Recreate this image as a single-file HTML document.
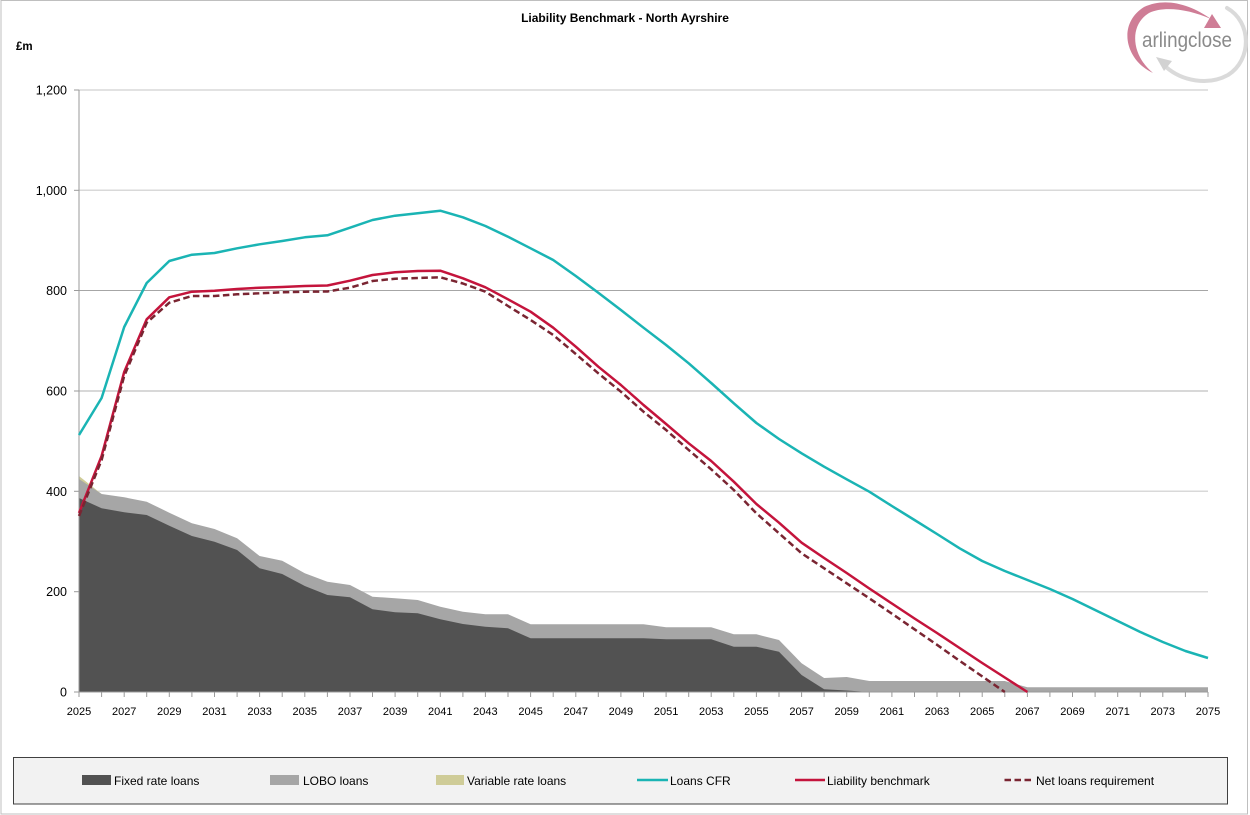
<!DOCTYPE html>
<html>
<head>
<meta charset="utf-8">
<style>
  html,body{margin:0;padding:0;background:#fff;}
  body{width:1250px;height:815px;overflow:hidden;}
  svg{display:block;}
  text{font-family:"Liberation Sans",Arial,sans-serif;}
</style>
</head>
<body>
<svg width="1250" height="815" viewBox="0 0 1250 815" xmlns="http://www.w3.org/2000/svg">
  <!-- outer border -->
  <rect x="1" y="0.5" width="1246.5" height="813.5" fill="#fff" stroke="#bfbfbf" stroke-width="1"/>

  <!-- title -->
  <text x="625" y="22" text-anchor="middle" font-size="12" font-weight="bold" fill="#000">Liability Benchmark - North Ayrshire</text>
  <text x="16" y="50" font-size="11.5" font-weight="bold" fill="#000">£m</text>

  <!-- logo -->
  <g>
    <path d="M1227,8 C1252,22 1252,60 1228,75 C1208,86 1182,81 1166,67" fill="none" stroke="#dadada" stroke-width="4" stroke-linecap="round"/>
    <polygon points="1156,57 1172,61 1164,71" fill="#d2d2d2"/>
    <path d="M1153,73 C1125,60 1117,24 1144,7 C1165,-3 1190,4 1211,19 C1188,9 1164,6 1149,13 C1129,25 1131,55 1153,73 Z" fill="#cf7d96"/>
    <polygon points="1221,28 1204,28 1212,14" fill="#cf7d96"/>
    <text x="1142" y="47" font-size="21" fill="#8a8a8a" textLength="90" lengthAdjust="spacingAndGlyphs">arlingclose</text>
  </g>

  <!-- gridlines -->
  <line x1="79" y1="90" x2="1208" y2="90" stroke="#d9d9d9" stroke-width="1.5"/>
  <line x1="79" y1="190.3" x2="1208" y2="190.3" stroke="#d9d9d9" stroke-width="1.5"/>
  <line x1="79" y1="290.5" x2="1208" y2="290.5" stroke="#a6a6a6" stroke-width="1"/>
  <line x1="79" y1="391" x2="1208" y2="391" stroke="#b0b0b0" stroke-width="1"/>
  <line x1="79" y1="491.3" x2="1208" y2="491.3" stroke="#d9d9d9" stroke-width="1.5"/>
  <line x1="79" y1="591.7" x2="1208" y2="591.7" stroke="#d9d9d9" stroke-width="1.5"/>

  <!-- variable rate loans (yellow) -->
  <polygon points="79,476 101.6,494 79,494" fill="#cfcc98"/>

  <!-- LOBO loans (grey) -->
  <polygon fill="#a6a6a6" points="79,479 101.6,494 124.2,497.3 146.7,501.7 169.3,512.7 191.9,523.3 214.5,529 237.1,538.3 259.6,556 282.2,560.7 304.8,573.3 327.4,581.7 350,585 372.5,596.7 395.1,598.3 417.7,600 440.3,606.7 462.9,611.7 485.4,614.3 508,614.3 530.6,624.3 643.5,624.3 666.1,627.3 711.2,627.3 733.8,634.3 756.4,634.3 779,640 801.6,663.3 824.1,678 846.7,677 869.3,681 1004.8,681 1027.4,687.3 1208,687.3 1208,692 79,692"/>

  <!-- Fixed rate loans (dark) -->
  <polygon fill="#525252" points="79,498 101.6,508.3 124.2,512.3 146.7,515 169.3,525.7 191.9,536 214.5,541.7 237.1,550 259.6,568.3 282.2,574 304.8,586 327.4,595 350,597.3 372.5,609.3 395.1,612.3 417.7,613.3 440.3,619.3 462.9,624 485.4,626.7 508,628.3 530.6,638.3 643.5,638.3 666.1,639.3 711.2,639.3 733.8,646.7 756.4,646.7 779,651.7 801.6,675 824.1,689.3 846.7,690.5 869.3,692 79,692"/>

  <!-- axes -->
  <line x1="79" y1="90" x2="79" y2="692" stroke="#9a9a9a" stroke-width="1"/>
  <line x1="79" y1="692" x2="1208" y2="692" stroke="#9a9a9a" stroke-width="1"/>
  <g stroke="#9a9a9a" stroke-width="1">
    <line x1="74" y1="90" x2="79" y2="90"/>
    <line x1="74" y1="190.3" x2="79" y2="190.3"/>
    <line x1="74" y1="290.5" x2="79" y2="290.5"/>
    <line x1="74" y1="391" x2="79" y2="391"/>
    <line x1="74" y1="491.3" x2="79" y2="491.3"/>
    <line x1="74" y1="591.7" x2="79" y2="591.7"/>
    <line x1="74" y1="692" x2="79" y2="692"/>
  </g>
  <g stroke="#9a9a9a" stroke-width="1">
    <line x1="79" y1="692" x2="79" y2="697"/><line x1="101.6" y1="692" x2="101.6" y2="697"/><line x1="124.2" y1="692" x2="124.2" y2="697"/><line x1="146.7" y1="692" x2="146.7" y2="697"/><line x1="169.3" y1="692" x2="169.3" y2="697"/><line x1="191.9" y1="692" x2="191.9" y2="697"/><line x1="214.5" y1="692" x2="214.5" y2="697"/><line x1="237.1" y1="692" x2="237.1" y2="697"/><line x1="259.6" y1="692" x2="259.6" y2="697"/><line x1="282.2" y1="692" x2="282.2" y2="697"/><line x1="304.8" y1="692" x2="304.8" y2="697"/><line x1="327.4" y1="692" x2="327.4" y2="697"/><line x1="350" y1="692" x2="350" y2="697"/><line x1="372.5" y1="692" x2="372.5" y2="697"/><line x1="395.1" y1="692" x2="395.1" y2="697"/><line x1="417.7" y1="692" x2="417.7" y2="697"/><line x1="440.3" y1="692" x2="440.3" y2="697"/><line x1="462.9" y1="692" x2="462.9" y2="697"/><line x1="485.4" y1="692" x2="485.4" y2="697"/><line x1="508" y1="692" x2="508" y2="697"/><line x1="530.6" y1="692" x2="530.6" y2="697"/><line x1="553.2" y1="692" x2="553.2" y2="697"/><line x1="575.8" y1="692" x2="575.8" y2="697"/><line x1="598.3" y1="692" x2="598.3" y2="697"/><line x1="620.9" y1="692" x2="620.9" y2="697"/><line x1="643.5" y1="692" x2="643.5" y2="697"/><line x1="666.1" y1="692" x2="666.1" y2="697"/><line x1="688.7" y1="692" x2="688.7" y2="697"/><line x1="711.2" y1="692" x2="711.2" y2="697"/><line x1="733.8" y1="692" x2="733.8" y2="697"/><line x1="756.4" y1="692" x2="756.4" y2="697"/><line x1="779" y1="692" x2="779" y2="697"/><line x1="801.6" y1="692" x2="801.6" y2="697"/><line x1="824.1" y1="692" x2="824.1" y2="697"/><line x1="846.7" y1="692" x2="846.7" y2="697"/><line x1="869.3" y1="692" x2="869.3" y2="697"/><line x1="891.9" y1="692" x2="891.9" y2="697"/><line x1="914.5" y1="692" x2="914.5" y2="697"/><line x1="937" y1="692" x2="937" y2="697"/><line x1="959.6" y1="692" x2="959.6" y2="697"/><line x1="982.2" y1="692" x2="982.2" y2="697"/><line x1="1004.8" y1="692" x2="1004.8" y2="697"/><line x1="1027.4" y1="692" x2="1027.4" y2="697"/><line x1="1049.9" y1="692" x2="1049.9" y2="697"/><line x1="1072.5" y1="692" x2="1072.5" y2="697"/><line x1="1095.1" y1="692" x2="1095.1" y2="697"/><line x1="1117.7" y1="692" x2="1117.7" y2="697"/><line x1="1140.3" y1="692" x2="1140.3" y2="697"/><line x1="1162.8" y1="692" x2="1162.8" y2="697"/><line x1="1185.4" y1="692" x2="1185.4" y2="697"/><line x1="1208" y1="692" x2="1208" y2="697"/>
  </g>

  <!-- y labels -->
  <g font-size="12.5" fill="#000" text-anchor="end">
    <text x="67" y="94.5">1,200</text>
    <text x="67" y="194.8">1,000</text>
    <text x="67" y="295">800</text>
    <text x="67" y="395.5">600</text>
    <text x="67" y="495.8">400</text>
    <text x="67" y="596.2">200</text>
    <text x="67" y="696.5">0</text>
  </g>

  <!-- x labels -->
  <g font-size="11" fill="#000" text-anchor="middle">
    <text x="79" y="715">2025</text><text x="124.2" y="715">2027</text><text x="169.3" y="715">2029</text><text x="214.5" y="715">2031</text><text x="259.6" y="715">2033</text><text x="304.8" y="715">2035</text><text x="350" y="715">2037</text><text x="395.1" y="715">2039</text><text x="440.3" y="715">2041</text><text x="485.4" y="715">2043</text><text x="530.6" y="715">2045</text><text x="575.8" y="715">2047</text><text x="620.9" y="715">2049</text><text x="666.1" y="715">2051</text><text x="711.2" y="715">2053</text><text x="756.4" y="715">2055</text><text x="801.6" y="715">2057</text><text x="846.7" y="715">2059</text><text x="891.9" y="715">2061</text><text x="937" y="715">2063</text><text x="982.2" y="715">2065</text><text x="1027.4" y="715">2067</text><text x="1072.5" y="715">2069</text><text x="1117.7" y="715">2071</text><text x="1162.8" y="715">2073</text><text x="1208" y="715">2075</text>
  </g>

  <!-- Loans CFR -->
  <polyline fill="none" stroke="#1ab4b4" stroke-width="2.5" stroke-linejoin="round" points="79,435 101.6,398 124.2,327 146.7,283 169.3,261 191.9,254.7 214.5,253 237.1,248.3 259.6,244.3 282.2,241 304.8,237.3 327.4,235.3 350,227.7 372.5,220 395.1,215.7 417.7,213.3 440.3,210.7 462.9,217.3 485.4,226 508,236.7 530.6,248.3 553.2,260 575.8,276 598.3,292.7 620.9,310 643.5,327.7 666.1,345 688.7,363.3 711.2,383 733.8,403.3 756.4,423 779,439 801.6,453.3 824.1,466.7 846.7,479.3 869.3,491.7 891.9,506 914.5,520 937,534 959.6,548.3 982.2,561 1004.8,571 1027.4,580 1049.9,589 1072.5,599 1095.1,610 1117.7,621 1140.3,632 1162.8,642 1185.4,651 1208,658"/>

  <!-- Liability benchmark -->
  <polyline fill="none" stroke="#c4143c" stroke-width="2.5" stroke-linejoin="round" points="79,513 101.6,456 124.2,372 146.7,319.3 169.3,297.3 191.9,291.7 214.5,290.7 237.1,289 259.6,287.7 282.2,287 304.8,286 327.4,285.5 350,280.7 372.5,275 395.1,272.3 417.7,271 440.3,270.7 462.9,278.3 485.4,287.3 508,299.3 530.6,311.7 553.2,327.7 575.8,346.7 598.3,366.7 620.9,385 643.5,405 666.1,424 688.7,443.3 711.2,461 733.8,481.7 756.4,504 779,522.7 801.6,542.7 824.1,558 846.7,573 869.3,588.5 891.9,603.5 914.5,618.5 937,633 959.6,648 982.2,663 1004.8,677.5 1027.4,692"/>

  <!-- Net loans requirement -->
  <polyline fill="none" stroke="#7a2532" stroke-width="2.5" stroke-dasharray="6.5,3.5" stroke-linejoin="round" points="79,516 101.6,460 124.2,376 146.7,322.7 169.3,302.7 191.9,296 214.5,296 237.1,294.3 259.6,293.3 282.2,292.3 304.8,291.7 327.4,291.5 350,287.7 372.5,281 395.1,278.7 417.7,278 440.3,277.3 462.9,283.5 485.4,291.7 508,306 530.6,320 553.2,335 575.8,354 598.3,373.3 620.9,391.7 643.5,411.7 666.1,430 688.7,450 711.2,469.3 733.8,490 756.4,513.3 779,533.3 801.6,553.3 824.1,568.3 846.7,583.3 869.3,598.3 891.9,613.7 914.5,629.3 937,644.8 959.6,660.8 982.2,676.4 1004.8,692"/>

  <!-- legend -->
  <rect x="13.5" y="757.5" width="1214" height="46.5" fill="#f2f2f2" stroke="#404040" stroke-width="1"/>
  <g font-size="12" fill="#000">
    <rect x="82" y="775" width="29" height="10" fill="#525252"/>
    <text x="114" y="785">Fixed rate loans</text>
    <rect x="270" y="775" width="29" height="10" fill="#a6a6a6"/>
    <text x="303" y="785">LOBO loans</text>
    <rect x="436" y="775" width="28" height="10" fill="#cfcc98"/>
    <text x="467" y="785">Variable rate loans</text>
    <line x1="637" y1="780" x2="668" y2="780" stroke="#1ab4b4" stroke-width="2.5"/>
    <text x="670" y="785">Loans CFR</text>
    <line x1="795" y1="780" x2="825" y2="780" stroke="#c4143c" stroke-width="2.5"/>
    <text x="827" y="785">Liability benchmark</text>
    <line x1="1004.5" y1="780" x2="1034" y2="780" stroke="#7a2532" stroke-width="2.5" stroke-dasharray="6.5,3.5"/>
    <text x="1036" y="785">Net loans requirement</text>
  </g>
</svg>
</body>
</html>
